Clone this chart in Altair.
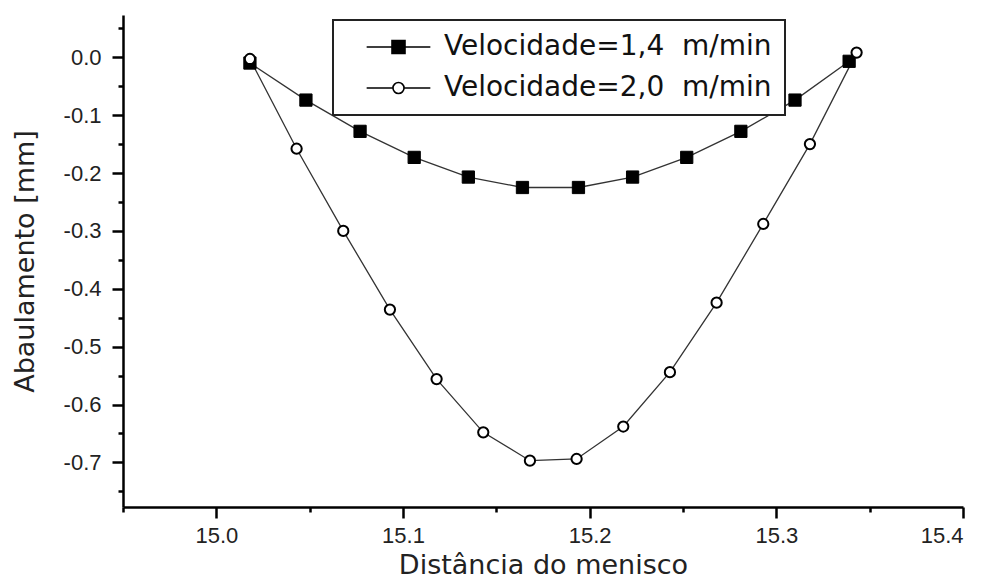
import altair as alt
import pandas as pd

# ---- data ----
serie_labels = ["Velocidade=1,4\u00a0 m/min", "Velocidade=2,0\u00a0 m/min"]

x_14 = [15.018, 15.048, 15.077, 15.106, 15.135, 15.164, 15.194, 15.223, 15.252, 15.281, 15.310, 15.339]
y_14 = [-0.010, -0.074, -0.128, -0.173, -0.207, -0.225, -0.225, -0.207, -0.173, -0.128, -0.074, -0.007]

x_20 = [15.018, 15.043, 15.068, 15.093, 15.118, 15.143, 15.168, 15.193, 15.218, 15.243, 15.268, 15.293, 15.318, 15.343]
y_20 = [-0.003, -0.158, -0.300, -0.436, -0.556, -0.648, -0.697, -0.694, -0.638, -0.544, -0.424, -0.288, -0.150, 0.008]

x_ticks = [14.95, 15.0, 15.05, 15.1, 15.15, 15.2, 15.25, 15.3, 15.35, 15.4]
y_ticks = [0.05, 0.0, -0.05, -0.1, -0.15, -0.2, -0.25, -0.3, -0.35, -0.4, -0.45,
           -0.5, -0.55, -0.6, -0.65, -0.7, -0.75]

x_title = "Distância do menisco"
y_title = "Abaulamento [mm]"

df = pd.concat([
    pd.DataFrame({"x": x_14, "y": y_14, "serie": serie_labels[0]}),
    pd.DataFrame({"x": x_20, "y": y_20, "serie": serie_labels[1]}),
], ignore_index=True)

major_test = "abs(datum.value*10 - round(datum.value*10)) < 0.001"
label_expr = (f"{major_test} ? (datum.value < -0.0001 ? '-' : '') + "
              "format(abs(datum.value), '.1f') : ''")

x_axis = alt.Axis(
    values=x_ticks, title=x_title, grid=False,
    labelExpr=label_expr,
    tickSize={"condition": {"test": major_test, "value": 11}, "value": 5},
    tickWidth=2.5, tickColor="black", domainWidth=2.5, domainColor="black",
    labelFont="Liberation Sans", labelFontSize=22, labelColor="#222",
    labelPadding=7, titleFont="DejaVu Sans", titleFontSize=27,
    titleFontWeight="normal", titleColor="#222", titlePadding=6,
)
y_axis = alt.Axis(
    values=y_ticks, title=y_title, grid=False,
    labelExpr=label_expr,
    tickSize={"condition": {"test": major_test, "value": 11}, "value": 5},
    tickWidth=2.5, tickColor="black", domainWidth=2.5, domainColor="black",
    labelFont="Liberation Sans", labelFontSize=22, labelColor="#222",
    labelPadding=11, titleFont="DejaVu Sans", titleFontSize=27,
    titleFontWeight="normal", titleColor="#222", titlePadding=24,
)

xs = alt.Scale(domain=[14.95, 15.4], nice=False, zero=False)
ys = alt.Scale(domain=[-0.777, 0.073], nice=False, zero=False)

base = alt.Chart(df).encode(
    x=alt.X("x:Q", scale=xs, axis=x_axis),
    y=alt.Y("y:Q", scale=ys, axis=y_axis),
)

lines = base.mark_line(color="#333", strokeWidth=1.3).encode(detail="serie:N")

sq_path = "M-4.9,0H-1M1,0H4.9M-1,-1H1V1H-1Z"
ci_path = "M-4.9,0H-0.85M0.85,0H4.9M0.85,0A0.85,0.85,0,1,1,-0.85,0A0.85,0.85,0,1,1,0.85,0Z"

legend = alt.Legend(
    title=None, orient="none", legendX=210, legendY=5,
    symbolType=alt.ExprRef(expr=f"indexof(datum.value, '1,4') >= 0 ? '{sq_path}' : '{ci_path}'"),
    symbolSize=169, symbolStrokeWidth=1.6, symbolStrokeColor="black",
    symbolOffset=38.5, labelOffset=31.5,
    labelFont="DejaVu Sans", labelFontSize=28, labelColor="#111", labelLimit=600,
    rowPadding=13, padding=13, strokeColor="#222", fillColor="white",
    cornerRadius=0,
)

fill_scale = alt.Scale(domain=serie_labels, range=["black", "white"])

squares = base.transform_filter(alt.datum.serie == serie_labels[0]).mark_point(
    shape="square", filled=True, size=150, stroke="black", strokeWidth=1, opacity=1
).encode(fill=alt.Fill("serie:N", scale=fill_scale, legend=legend))

circles = base.transform_filter(alt.datum.serie == serie_labels[1]).mark_point(
    shape="circle", filled=True, size=105, stroke="black", strokeWidth=2, opacity=1
).encode(fill=alt.Fill("serie:N", scale=fill_scale, legend=legend))

chart = alt.layer(lines, squares, circles).properties(
    width=840, height=492,
    autosize=alt.AutoSizeParams(type="none"),
    padding={"left": 123, "top": 15, "right": 27, "bottom": 74},
    background="white",
).configure_view(stroke=None).configure_legend(strokeWidth=2)

chart.save("out.html", embed_options={"renderer": "svg", "actions": False})
